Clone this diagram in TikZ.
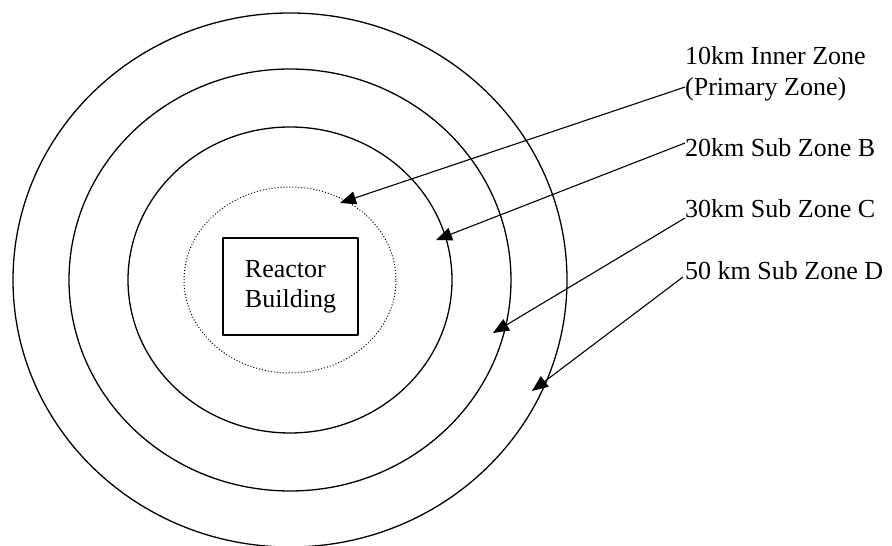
\documentclass[tikz,border=0pt]{standalone}
\usepackage{fontspec}
\setmainfont{Liberation Serif}
\usetikzlibrary{arrows.meta}
\begin{document}
\begin{tikzpicture}[x=1pt,y=1pt,>={Triangle[length=16pt,width=13pt]},line join=round,
	lbl/.style={inner sep=0pt,font=\fontsize{26}{31}\selectfont,anchor=base west}]
	\useasboundingbox (0,0) rectangle (892,546);
	\coordinate (c) at (290,266);
	% zones
	\draw[line width=1.3pt] (c) ellipse (277 and 267) (c) ellipse (221 and 211) (c) ellipse (162 and 153);
	\draw[dotted,line width=1pt] (c) ellipse (106 and 93);
	\node[draw,line width=1.3pt,minimum width=135pt,minimum height=97pt,align=left,
		font=\fontsize{26}{30}\selectfont] (rb) at (290.5,259.5) {Reactor\\Building};
	% labels
	\node[lbl,anchor=north west,align=left] (t10) at (685,500) {10km Inner Zone\\(Primary Zone)};
	\node[lbl] (t20) at (685,389) {20km Sub Zone B};
	\node[lbl] (t30) at (685,328) {30km Sub Zone C};
	\node[lbl] (t50) at (685,266) {50 km Sub Zone D};
	\coordinate (a10) at (340,343);
	\coordinate (a20) at (436,306);
	\coordinate (a30) at (493,213);
	\coordinate (a50) at (532,155);
	\draw[->,line width=1.1pt] ([yshift=14pt]t10.south west)--(a10);
	\draw[->,line width=1.1pt] ([yshift=14pt]t20.base west)--(a20);
	\draw[->,line width=1.1pt] (t30.base west)--(a30);
	\draw[->,line width=1.1pt] ([xshift=-2pt,yshift=3pt]t50.base west)--(a50);
\end{tikzpicture}
\end{document}
